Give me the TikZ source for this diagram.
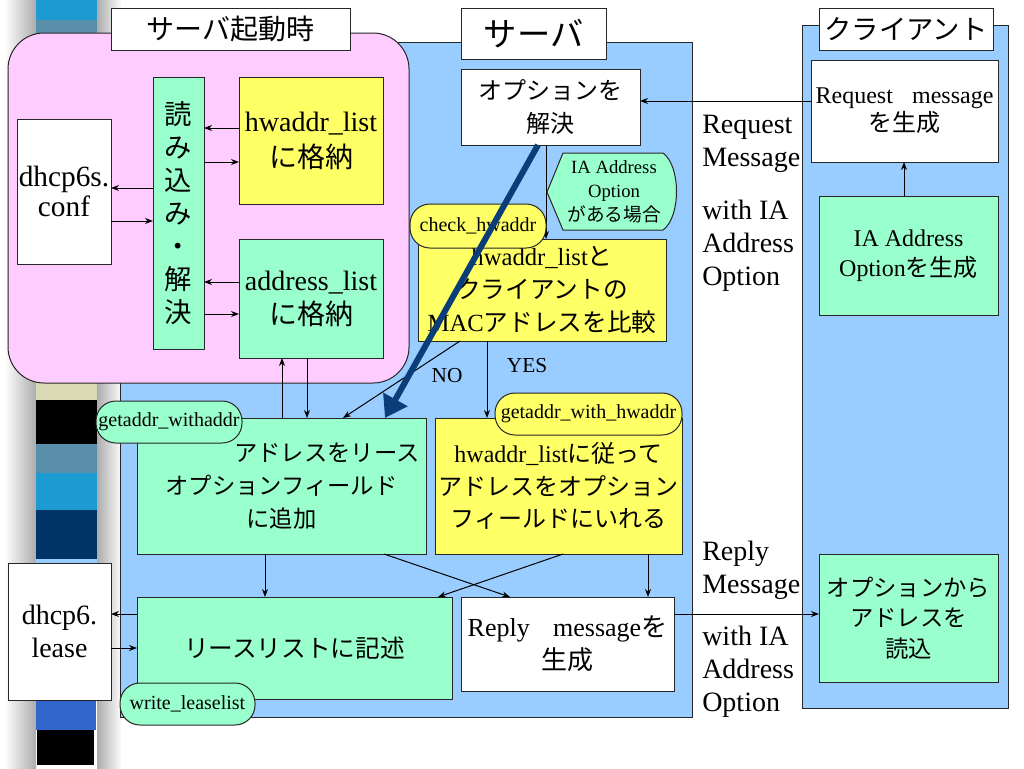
\documentclass[tikz,border=0pt]{standalone}
\usepackage{fontspec}
\setmainfont{Liberation Serif}
\newfontfamily\jp{Noto Sans CJK JP}
\usetikzlibrary{arrows.meta,calc}
\definecolor{pinkbg}{HTML}{FFCCFF}
\definecolor{bluebg}{HTML}{99CCFF}
\definecolor{mint}{HTML}{99FFCC}
\definecolor{yel}{HTML}{FFFF66}
\definecolor{navyarrow}{HTML}{0B3D78}
\definecolor{bcyan}{HTML}{1B9BD1}
\definecolor{bsteel}{HTML}{5A8FAB}
\definecolor{bbeige}{HTML}{DAD9B5}
\definecolor{bnavy}{HTML}{003466}
\definecolor{broyal}{HTML}{3366CC}
\begin{document}
\begin{tikzpicture}[x=0.75pt,y=-0.75pt,
  base/.style={draw=black!85, line width=0.75pt, inner sep=0pt, outer sep=0pt, anchor=north west, align=center},
  sz/.style 2 args={minimum width={(#1)*0.75pt}, minimum height={(#2)*0.75pt}},
  pill/.style={base, rounded corners=15pt, font=\fontsize{15}{17}\selectfont},
  arr/.style={-{Stealth[length=6pt,width=4.5pt]}, line width=0.75pt, black},
  lbl/.style={inner sep=0pt, anchor=west, align=left, font=\fontsize{21}{24.75}\selectfont},
  yn/.style={inner sep=0pt, font=\fontsize{16}{18}\selectfont}]
\useasboundingbox (0,0) rectangle (1024,768);
\fill[white] (0,0) rectangle (1024,768);
% left decorative strip
\shade[left color=white, right color=gray!65] (4,0) rectangle (36,768);
\shade[left color=gray!65, right color=white] (97,0) rectangle (122,768);
\fill[bcyan] (36,0) rectangle (97,20);
\fill[bsteel] (36,20) rectangle (97,60);
\fill[bbeige] (36,380) rectangle (97,400);
\fill[black] (36,400) rectangle (97,444);
\fill[bsteel] (36,444) rectangle (97,473);
\fill[bcyan] (36,473) rectangle (97,510);
\fill[bnavy] (36,510) rectangle (97,559);
\fill[bluebg] (36,559) rectangle (97,566);
\fill[broyal] (36,698) rectangle (96,730);
\fill[black] (37,730) rectangle (94,765);
% containers
\node[base, fill=bluebg, sz={692-120}{717-42}] (srv) at (120,42) {};
\node[base, fill=bluebg, sz={1008-802}{708-25}] (clt) at (802,25) {};
\node[base, fill=pinkbg, rounded corners=27pt, sz={409-8}{383-33}] (boot) at (8,33) {};
\node[base, fill=white, sz={350-111}{50-8}, font={\jp\fontsize{21}{25}\selectfont}] (lboot) at (111,8) {サーバ起動時};
\node[base, fill=white, sz={606-461}{59-8}, font={\jp\fontsize{25}{28}\selectfont}] (lsrv) at (461,8) {サーバ};
\node[base, fill=white, sz={993-819}{50-8}, font={\jp\fontsize{20.5}{24}\selectfont}] (lclt) at (819,8) {クライアント};
% boot-time boxes
\node[base, fill=white, sz={111-17}{264-119}, font=\fontsize{22}{23}\selectfont] (conf) at (17,119) {dhcp6s.\\conf};
\node[base, fill=mint, sz={204-153}{349-77}, font={\jp\fontsize{20.5}{24.75}\selectfont}] (read) at (153,77) {読\\み\\込\\み\\・\\解\\決};
\node[base, fill=yel, sz={383-239}{204-77}, font=\fontsize{21}{27}\selectfont] (hw) at (239,77) {hwaddr\_list\\{\jp に格納}};
\node[base, fill=mint, sz={383-239}{358-239}, font=\fontsize{21}{25.5}\selectfont] (al) at (239,239) {address\_list\\{\jp に格納}};
\draw[arr] (hw.west |- 0,128) -- (read.east |- 0,128);
\draw[arr] (read.east |- 0,162) -- (hw.west |- 0,162);
\draw[arr] (al.west |- 0,282) -- (read.east |- 0,282);
\draw[arr] (read.east |- 0,314) -- (al.west |- 0,314);
\draw[arr] (read.west |- 0,188) -- (conf.east |- 0,188);
\draw[arr] (conf.east |- 0,221) -- (read.west |- 0,221);
% server boxes
\node[base, fill=white, sz={640-461}{145-69}, font={\jp\fontsize{18}{25}\selectfont}] (opt) at (461,69) {オプションを\\解決};
\node[base, fill=yel, sz={666-418}{341-239}, font=\fontsize{18.5}{25}\selectfont] (cmp) at (418,239) {hwaddr\_list{\jp と}\\{\jp クライアントの}\\MAC{\jp アドレスを比較}};
\node[base, fill=mint, sz={426-137}{554-418}, font={\jp\fontsize{17.5}{24.5}\selectfont}] (lease) at (137,418) {\hspace*{68pt}アドレスをリース\\オプションフィールド\\に追加};
\node[base, fill=yel, sz={682-435}{554-418}, font=\fontsize{18}{24.5}\selectfont] (hwget) at (435,418) {hwaddr\_list{\jp に従って}\\{\jp アドレスをオプション}\\{\jp フィールドにいれる}};
\node[base, fill=mint, sz={452-137}{699-597}, font={\jp\fontsize{18.5}{22}\selectfont}] (wr) at (137,597) {リースリストに記述};
\node[base, fill=white, sz={674-461}{691-597}, font=\fontsize{19.5}{25}\selectfont] (rep) at (461,597) {Reply\hspace{0.9em}message{\jp を}\\{\jp 生成}};
\node[base, fill=white, sz={111-8}{700-563}, font=\fontsize{21}{25}\selectfont] (dl) at (8,563) {dhcp6.\\lease};
% callout
\draw[line width=0.75pt, draw=black!85, fill=mint] (547,192) -- (563,153) -- (663,153) .. controls (681,166) and (681,217) .. (663,230) -- (563,230) -- cycle;
\node[inner sep=0pt, align=center, font=\fontsize{14}{18}\selectfont] (cond) at (614,192) {IA Address\\Option\\{\jp がある場合}};
% client boxes
\node[base, fill=white, sz={998-811}{162-60}, font=\fontsize{18}{21}\selectfont] (req) at (811,60) {Request\hspace{0.8em}message\\{\jp を生成}};
\node[base, fill=mint, sz={998-819}{315-196}, font=\fontsize{18}{22.5}\selectfont] (iaopt) at (819,196) {IA Address\\Option{\jp を生成}};
\node[base, fill=mint, sz={998-819}{682-554}, font={\jp\fontsize{17.5}{23}\selectfont}] (rd) at (819,554) {オプションから\\アドレスを\\読込};
% connectors
\draw[arr] (req.west |- 0,101) -- (opt.east |- 0,101);
\draw[arr] (iaopt.north -| 904,0) -- (req.south -| 904,0);
\draw[arr] (opt.south -| 546,0) -- (cmp.north -| 546,0);
\draw[arr] (cmp.south -| 460,0) -- (lease.north -| 343,0);
\draw[arr] (cmp.south -| 487,0) -- (hwget.north -| 487,0);
\draw[arr] (lease.north -| 282,0) -- (al.south -| 282,0);
\draw[arr] (al.south -| 307,0) -- (lease.north -| 307,0);
\draw[arr] (lease.south -| 265,0) -- (wr.north -| 265,0);
\draw[arr] (lease.south -| 384,0) -- (rep.north -| 510,0);
\draw[arr] (hwget.south -| 563,0) -- (wr.north -| 438,0);
\draw[arr] (hwget.south -| 648,0) -- (rep.north -| 648,0);
\draw[arr] (wr.west |- 0,614) -- (dl.east |- 0,614);
\draw[arr] (dl.east |- 0,648) -- (wr.west |- 0,648);
\draw[arr] (rep.east |- 0,614) -- (rd.west |- 0,614);
\node[yn] (no) at (447,376) {NO};
\node[yn] (yes) at (527,366) {YES};
% pills
\node[pill, fill=yel, sz={546-410}{248-204}] (pchk) at (410,204) {check\_hwaddr};
\node[pill, fill=mint, sz={242-96}{443-401}] (pgwa) at (96,401) {getaddr\_withaddr};
\node[pill, fill=yel, sz={682-495}{435-393}] (pgwh) at (495,393) {getaddr\_with\_hwaddr};
\node[pill, fill=mint, sz={255-120}{725-683}] (pwl) at (120,683) {write\_leaselist};
% message labels
\node[lbl] (rqlab) at (702,144) {Request\\Message};
\node[lbl] (rqopt) at (702,246) {with IA\\Address\\Option};
\node[lbl] (rplab) at (702,570) {Reply\\Message};
\node[lbl] (rpopt) at (702,672) {with IA\\Address\\Option};
% thick arrow
\draw[line width=4.5pt, navyarrow, -{Triangle[length=16pt,width=20pt]}] (opt.south -| 538,0) -- (lease.north -| 385,0);
\end{tikzpicture}
\end{document}
